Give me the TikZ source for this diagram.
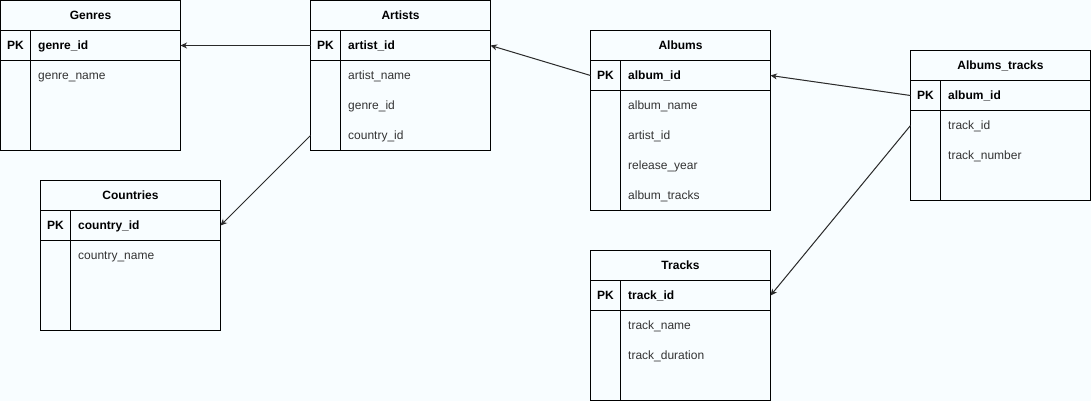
\documentclass[tikz,border=0pt]{standalone}
\usepackage{fontspec}
\setmainfont{Liberation Sans}
\usetikzlibrary{arrows.meta}
\definecolor{pagebg}{HTML}{F8FDFF}
\definecolor{fieldtext}{HTML}{333333}
\definecolor{linkline}{HTML}{2A2A2A}

\tikzset{
  tblbox/.style={draw=black, line width=1pt, minimum width=180pt, inner sep=0pt, outer sep=0pt},
  tblline/.style={draw=black, line width=1pt},
  tbltitle/.style={font=\fontsize{12}{14}\selectfont\bfseries, inner sep=0pt, anchor=base},
  pkmark/.style={font=\fontsize{12}{14}\selectfont\bfseries, inner sep=0pt, anchor=base},
  keyfield/.style={font=\fontsize{12}{14}\selectfont\bfseries, inner sep=0pt, anchor=base west},
  field/.style={font=\fontsize{12}{14}\selectfont, text=fieldtext, inner sep=0pt, anchor=base west},
  fk/.style={draw=linkline, line width=1pt, -{Stealth[length=6.5pt,width=6pt,inset=2pt]}}
}

% \ertable{name}{left}{top}{height}{title}{key}{fields}
\newcommand\ertable[7]{%
  \node[tblbox, minimum height=#4pt, anchor=north west] (#1) at (#2+0.5,#3+0.5) {};
  \draw[tblline] ([yshift=-30pt]#1.north west) -- ([yshift=-30pt]#1.north east);
  \draw[tblline] ([yshift=-60pt]#1.north west) -- ([yshift=-60pt]#1.north east);
  \draw[tblline] ([xshift=30pt,yshift=-30pt]#1.north west) -- ([xshift=30pt]#1.south west);
  \node[tbltitle] (#1-t) at ([yshift=-19.3pt]#1.north) {#5};
  \node[pkmark] (#1-pk) at ([xshift=15pt,yshift=-49.3pt]#1.north west) {PK};
  \node[keyfield] (#1-key) at ([xshift=37.5pt,yshift=-49.3pt]#1.north west) {#6};
  \foreach \f [count=\i] in {#7} {
    \node[field] (#1-f\i) at ([xshift=37.5pt,yshift={-49.3pt-30pt*\i}]#1.north west) {\f};
  }%
}

\begin{document}
\begin{tikzpicture}[x=1pt,y=-1pt]
  \useasboundingbox (0,0) rectangle (1091,401);
  \fill[pagebg] (0,0) rectangle (1091,401);

  \ertable{genres}{0}{0}{150}{Genres}{genre\_id}{genre\_name}
  \ertable{artists}{310}{0}{150}{Artists}{artist\_id}{artist\_name,genre\_id,country\_id}
  \ertable{albums}{590}{30}{180}{Albums}{album\_id}{album\_name,artist\_id,release\_year,album\_tracks}
  \ertable{albumstracks}{910}{50}{150}{Albums\_tracks}{album\_id}{track\_id,track\_number}
  \ertable{countries}{40}{180}{150}{Countries}{country\_id}{country\_name}
  \ertable{tracks}{590}{250}{150}{Tracks}{track\_id}{track\_name,track\_duration}

  % foreign key references
  \draw[fk] ([yshift=-45pt]artists.north west) -- ([yshift=-45pt]genres.north east);
  \draw[fk] ([yshift=-135pt]artists.north west) -- ([yshift=-45pt]countries.north east);
  \draw[fk] ([yshift=-45pt]albums.north west) -- ([yshift=-45pt]artists.north east);
  \draw[fk] ([yshift=-45pt]albumstracks.north west) -- ([yshift=-45pt]albums.north east);
  \draw[fk] ([yshift=-75pt]albumstracks.north west) -- ([yshift=-45pt]tracks.north east);
\end{tikzpicture}
\end{document}
